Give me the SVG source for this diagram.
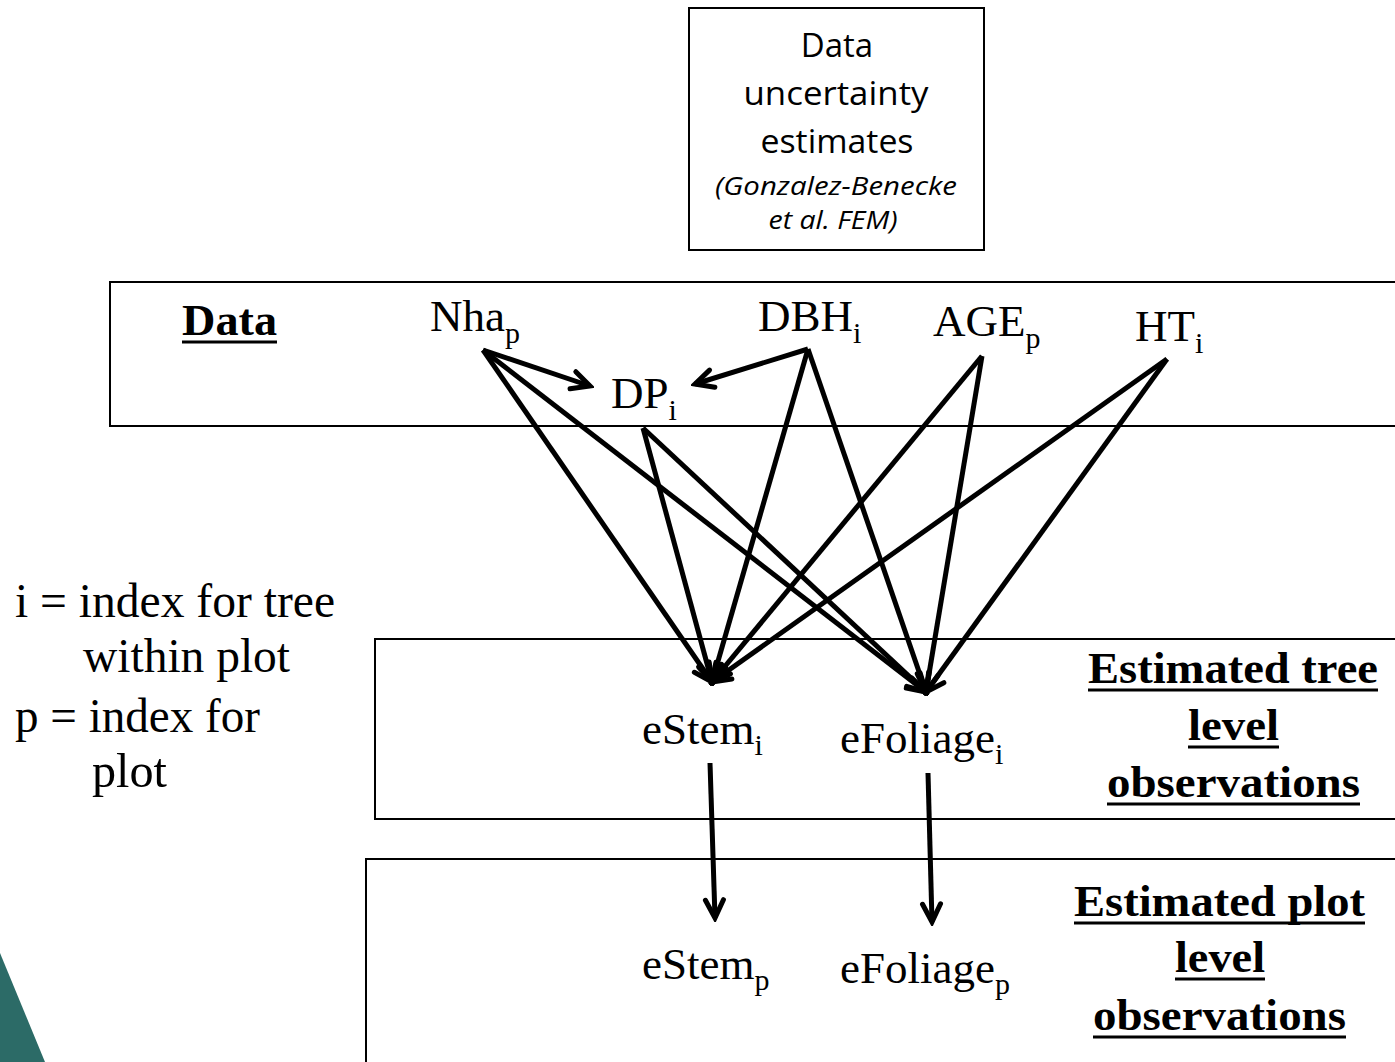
<svg xmlns="http://www.w3.org/2000/svg" width="1395" height="1062" viewBox="0 0 1395 1062">
  <style>
    .frame { fill: none; stroke: #000; stroke-width: 2; }
    .serif { font-family: "Liberation Serif", "Times New Roman", serif; fill: #000; }
    .node { font-size: 45px; }
    .sub { font-size: 30px; }
    .head { font-size: 45px; font-weight: bold; }
    .legend { font-size: 48px; }
    .sans { font-family: "Open Sans", "Liberation Sans", sans-serif; fill: #000; text-anchor: middle; }
    .ul { stroke: #000; stroke-width: 3; }
    .edge { fill: none; stroke: #000; stroke-width: 5; marker-end: url(#chev); }
  </style>
  <defs>
    <marker id="chev" markerUnits="userSpaceOnUse" viewBox="-24 -14 28 28" refX="0" refY="0" markerWidth="28" markerHeight="28" orient="auto">
      <path d="M-18,-9 L0,0 L-18,9" fill="none" stroke="#000" stroke-width="5" stroke-linecap="round" stroke-linejoin="miter"/>
    </marker>
  </defs>

  <rect width="1395" height="1062" fill="#fff"/>

  <!-- corner accent -->
  <polygon points="0,953 45,1062 0,1062" fill="#2c6b67"/>

  <!-- source note box -->
  <g id="uncertainty">
    <rect class="frame" x="689" y="8" width="295" height="242"/>
    <text class="sans" x="837" y="57" font-size="33">Data</text>
    <text class="sans" x="836" y="105" font-size="33" textLength="185" lengthAdjust="spacingAndGlyphs">uncertainty</text>
    <text class="sans" x="837" y="153" font-size="33" textLength="153" lengthAdjust="spacingAndGlyphs">estimates</text>
    <text class="sans" x="836" y="195" font-size="25" font-style="italic" textLength="242" lengthAdjust="spacingAndGlyphs">(Gonzalez-Benecke</text>
    <text class="sans" x="833" y="229" font-size="25" font-style="italic" textLength="129" lengthAdjust="spacingAndGlyphs">et al. FEM)</text>
  </g>

  <!-- level bands -->
  <g id="data-band">
    <rect class="frame" x="110" y="282" width="1300" height="144"/>
    <text class="serif head" x="182" y="335" textLength="95" lengthAdjust="spacingAndGlyphs">Data</text>
    <line class="ul" x1="182" y1="342" x2="277" y2="342"/>
  </g>
  <g id="tree-band">
    <rect class="frame" x="375" y="639" width="1035" height="180"/>
    <text class="serif head" x="1088" y="683" textLength="290" lengthAdjust="spacingAndGlyphs">Estimated tree</text>
    <line class="ul" x1="1088" y1="690" x2="1378" y2="690"/>
    <text class="serif head" x="1188" y="740" textLength="91" lengthAdjust="spacingAndGlyphs">level</text>
    <line class="ul" x1="1188" y1="747" x2="1279" y2="747"/>
    <text class="serif head" x="1107" y="797" textLength="253" lengthAdjust="spacingAndGlyphs">observations</text>
    <line class="ul" x1="1107" y1="804" x2="1360" y2="804"/>
  </g>
  <g id="plot-band">
    <rect class="frame" x="366" y="859" width="1044" height="220"/>
    <text class="serif head" x="1074" y="916" textLength="291" lengthAdjust="spacingAndGlyphs">Estimated plot</text>
    <line class="ul" x1="1074" y1="923" x2="1365" y2="923"/>
    <text class="serif head" x="1175" y="972" textLength="90" lengthAdjust="spacingAndGlyphs">level</text>
    <line class="ul" x1="1175" y1="979" x2="1265" y2="979"/>
    <text class="serif head" x="1093" y="1030" textLength="253" lengthAdjust="spacingAndGlyphs">observations</text>
    <line class="ul" x1="1093" y1="1037" x2="1346" y2="1037"/>
  </g>

  <!-- index legend -->
  <g id="legend" class="serif legend">
    <text x="15" y="617" textLength="320" lengthAdjust="spacingAndGlyphs">i = index for tree</text>
    <text x="83" y="672" textLength="207" lengthAdjust="spacingAndGlyphs">within plot</text>
    <text x="15" y="732" textLength="245" lengthAdjust="spacingAndGlyphs">p = index for</text>
    <text x="92" y="787" textLength="75" lengthAdjust="spacingAndGlyphs">plot</text>
  </g>

  <!-- variables -->
  <g id="nha"><text class="serif node" x="430" y="331">Nha<tspan class="sub" dy="12">p</tspan></text></g>
  <g id="dbh"><text class="serif node" x="758" y="331">DBH<tspan class="sub" dy="12">i</tspan></text></g>
  <g id="age"><text class="serif node" x="933" y="336">AGE<tspan class="sub" dy="12">p</tspan></text></g>
  <g id="ht"><text class="serif node" x="1135" y="341">HT<tspan class="sub" dy="12">i</tspan></text></g>
  <g id="dp"><text class="serif node" x="611" y="408">DP<tspan class="sub" dy="12">i</tspan></text></g>
  <g id="estem-i"><text class="serif node" x="642" y="744">eStem<tspan class="sub" dy="11">i</tspan></text></g>
  <g id="efoliage-i"><text class="serif node" x="840" y="753">eFoliage<tspan class="sub" dy="11">i</tspan></text></g>
  <g id="estem-p"><text class="serif node" x="642" y="979">eStem<tspan class="sub" dy="11">p</tspan></text></g>
  <g id="efoliage-p"><text class="serif node" x="840" y="983">eFoliage<tspan class="sub" dy="11">p</tspan></text></g>

  <!-- connectors -->
  <g id="connectors">
    <line class="edge" x1="483" y1="350" x2="590" y2="386"/>
    <line class="edge" x1="808" y1="349" x2="695" y2="384"/>
    <line class="edge" x1="483" y1="350" x2="712" y2="682"/>
    <line class="edge" x1="483" y1="350" x2="926" y2="692"/>
    <line class="edge" x1="643" y1="428" x2="712" y2="682"/>
    <line class="edge" x1="643" y1="428" x2="926" y2="692"/>
    <line class="edge" x1="808" y1="349" x2="712" y2="682"/>
    <line class="edge" x1="808" y1="349" x2="926" y2="692"/>
    <line class="edge" x1="982" y1="356" x2="712" y2="682"/>
    <line class="edge" x1="982" y1="356" x2="926" y2="692"/>
    <line class="edge" x1="1167" y1="359" x2="712" y2="682"/>
    <line class="edge" x1="1167" y1="359" x2="926" y2="692"/>
    <line class="edge" x1="710" y1="763" x2="715" y2="918"/>
    <line class="edge" x1="928" y1="773" x2="932" y2="922"/>
  </g>
</svg>
